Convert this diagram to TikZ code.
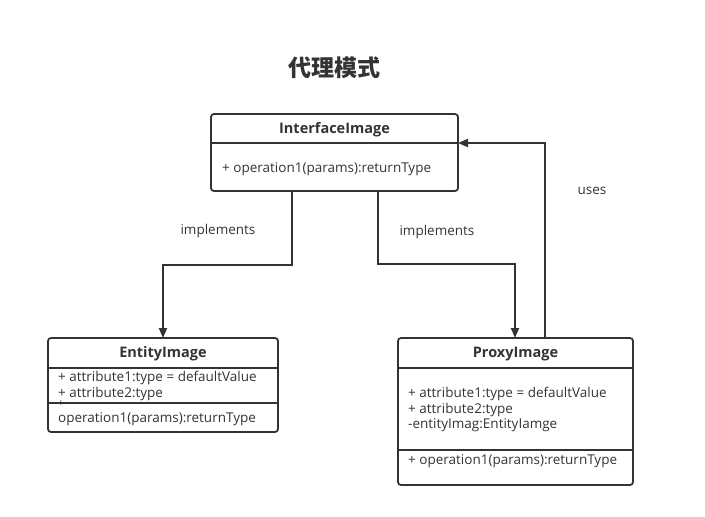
\documentclass[tikz,border=0pt]{standalone}
\usepackage{fontspec}
\setmainfont{Open Sans}
\newfontfamily\cjk{Noto Sans CJK SC}
\usetikzlibrary{arrows.meta}
\definecolor{ink}{HTML}{333333}
\begin{document}
\begin{tikzpicture}[x=1pt,y=-1pt,
  box/.style={draw=ink,line width=1.8pt,rounded corners=3pt},
  sep/.style={draw=ink,line width=1.8pt},
  hdr/.style={font=\fontsize{14.5}{16}\selectfont\bfseries,text=ink,inner sep=0pt},
  txt/.style={font=\fontsize{13.5}{15}\selectfont,text=ink,anchor=west,inner sep=0pt},
  lbl/.style={font=\fontsize{13.5}{15}\selectfont,text=ink,inner sep=0pt},
  conn/.style={draw=ink,line width=1.8pt,-{Triangle[length=10pt,width=8pt]}}]
\useasboundingbox (0,0) rectangle (705,517);
\node[font=\cjk\fontsize{23}{25}\selectfont\bfseries,text=ink] (title) at (334,68) {代理模式};
% InterfaceImage
\draw[box] (211,114) rectangle (458,191);
\draw[sep] (211,143) -- (458,143);
\node[hdr] (ifh) at (334.5,130) {InterfaceImage};
\node[txt] (ifop) at (222,169.5) {+ operation1(params):returnType};
% EntityImage
\draw[box] (48,338) rectangle (278,432);
\draw[sep] (48,368) -- (278,368);
\draw[sep] (48,403) -- (278,403);
\node[hdr] (enh) at (163,354) {EntityImage};
\node[txt] (ena1) at (58,377.5) {+ attribute1:type = defaultValue};
\node[txt] (ena2) at (58,393.5) {+ attribute2:type};
\node[txt,font=\fontsize{10}{11}\selectfont] (enp) at (58,404) {+};
\node[txt] (enop) at (58,419.5) {operation1(params):returnType};
% ProxyImage
\draw[box] (398,338) rectangle (633,485);
\draw[sep] (398,368) -- (633,368);
\draw[sep] (398,450) -- (633,450);
\node[hdr] (prh) at (515.5,354) {ProxyImage};
\node[txt] (pra1) at (408,393.5) {+ attribute1:type = defaultValue};
\node[txt] (pra2) at (408,409.5) {+ attribute2:type};
\node[txt] (pra3) at (408,425.5) {-entityImag:EntityIamge};
\node[txt] (prop) at (408,461.5) {+ operation1(params):returnType};
% connector anchors
\coordinate (a1) at (292,191); \coordinate (b1) at (163,338);
\coordinate (a2) at (378,191); \coordinate (b2) at (515,338);
\coordinate (a3) at (545,338); \coordinate (b3) at (458,143);
\draw[conn] (a1) -- (292,265) -- (163,265) -- (b1);
\draw[conn] (a2) -- (378,264) -- (515,264) -- (b2);
\draw[conn] (a3) -- (545,143) -- (b3);
\node[lbl] (l1) at (218,230.5) {implements};
\node[lbl] (l2) at (437,231.5) {implements};
\node[lbl] (l3) at (592,190.5) {uses};
\end{tikzpicture}
\end{document}
